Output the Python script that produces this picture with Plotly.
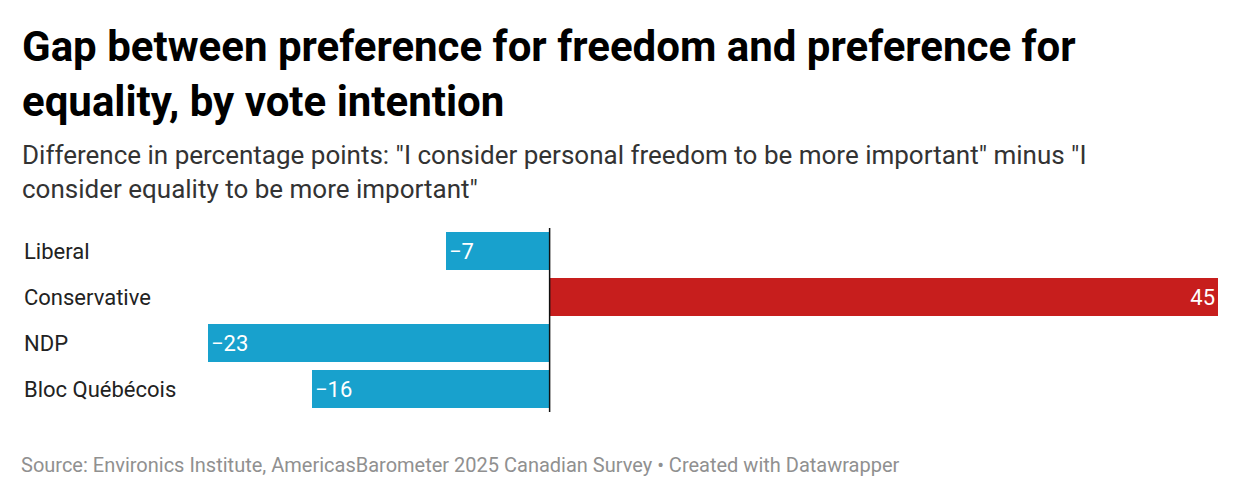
import plotly.graph_objects as go

parties = ["Liberal", "Conservative", "NDP", "Bloc Québécois"]
gap = [-7, 45, -23, -16]
labels = ["\u22127", "45", "\u221223", "\u221216"]
colors = ["#18a1cd" if v < 0 else "#c71e1d" for v in gap]

W, H = 1240, 498
L, R, T, B = 200, 30, 220, 94
PW, PH = W - L - R, H - T - B
OFF = 8  # page body offset


def px(x):
    return (x - OFF - L) / PW


def py(y):
    return 1 - (y - OFF - T) / PH


fig = go.Figure(go.Bar(
    x=gap, y=parties, orientation="h",
    marker=dict(color=colors, line=dict(width=0)),
    text=labels, textposition="inside", insidetextanchor="end",
    textfont=dict(color="white", size=22, family="Roboto"),
    width=0.83, cliponaxis=False,
))

for p in parties:
    fig.add_annotation(x=px(22), xref="paper", y=p, yref="y",
                       text=p, showarrow=False, xanchor="left",
                       font=dict(size=22, color="#222", family="Roboto"))

fig.add_shape(type="line", x0=0, x1=0, xref="x", y0=0, y1=1, yref="paper",
              line=dict(color="#111", width=1.5))

fig.add_annotation(x=px(20), xref="paper", y=py(20), yref="paper", yanchor="top",
                   xanchor="left", align="left", showarrow=False,
                   text="<b>Gap between preference for freedom and preference for<br>equality, by vote intention</b>",
                   font=dict(size=42, color="#000", family="Roboto"))
fig.add_annotation(x=px(20), xref="paper", y=py(138), yref="paper", yanchor="top",
                   xanchor="left", align="left", showarrow=False,
                   text="Difference in percentage points: \"I consider personal freedom to be more important\" minus \"I<br>consider equality to be more important\"",
                   font=dict(size=26, color="#333", family="Roboto"))
fig.add_annotation(x=px(19), xref="paper", y=py(451), yref="paper", yanchor="top",
                   xanchor="left", showarrow=False,
                   text="Source: Environics Institute, AmericasBarometer 2025 Canadian Survey • Created with Datawrapper",
                   font=dict(size=20, color="#909090", family="Roboto"))

fig.update_layout(
    width=W, height=H, margin=dict(l=L, r=R, t=T, b=B),
    plot_bgcolor="white", paper_bgcolor="white", showlegend=False,
    xaxis=dict(range=[-23, 45], visible=False, fixedrange=True),
    yaxis=dict(visible=False, autorange=False, range=[3.5, -0.5]),
    bargap=0,
)

fig.write_html("out.html")
